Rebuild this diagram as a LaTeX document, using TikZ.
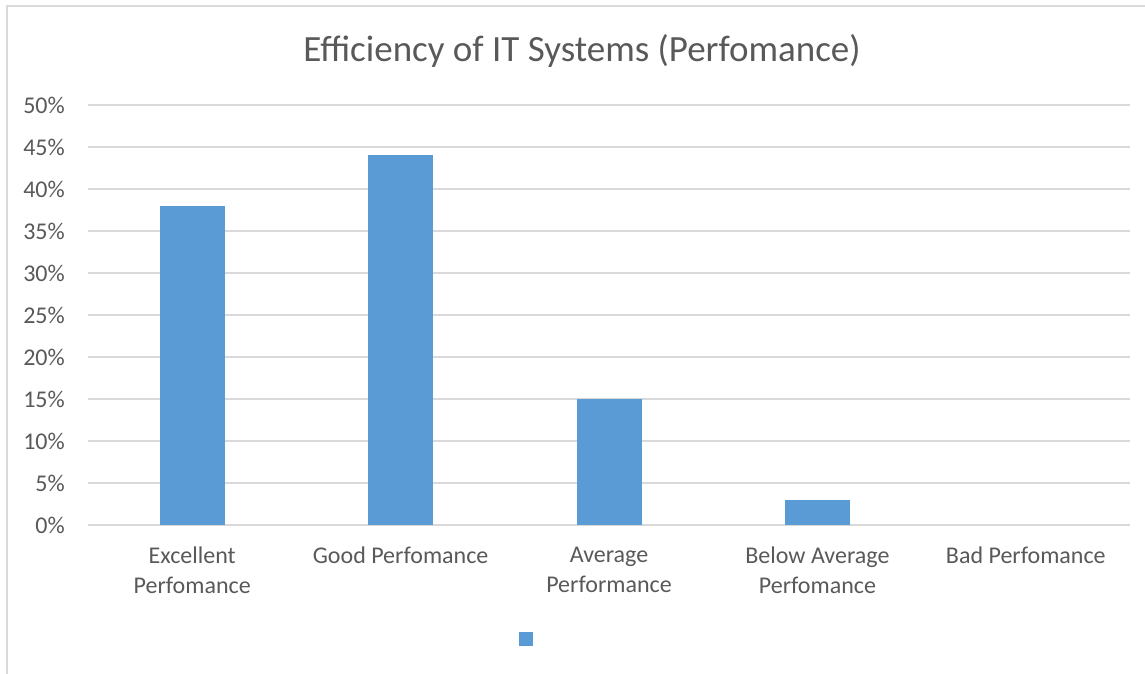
\documentclass[tikz,border=0pt]{standalone}
\usepackage{fontspec}
\setmainfont{Carlito}
\definecolor{barblue}{HTML}{5B9BD5}
\definecolor{gridgray}{HTML}{D9D9D9}
\definecolor{textgray}{HTML}{595959}
\begin{document}
\begin{tikzpicture}[x=1pt,y=-1pt,
    tick label/.style={text=textgray,font=\fontsize{24}{29}\selectfont,anchor=east,inner sep=0pt},
    cat label/.style={text=textgray,font=\fontsize{24}{30}\selectfont,align=center,anchor=north,inner sep=0pt},
    grid line/.style={draw=gridgray,line width=1.3pt},
    bar/.style={fill=barblue}]
    \useasboundingbox (0,0) rectangle (1145,674);
    % chart frame
    \draw [gridgray,line width=1.5pt] (7,674) -- (7,6) -- (1145,6);
    \node [text=textgray,font=\fontsize{37}{44}\selectfont] (title) at (582,51) {Efficiency of IT Systems (Perfomance)};
    % value axis
    \foreach \p in {0,5,...,50} {
        \draw [grid line] (88,{525-8.4*\p}) -- (1130,{525-8.4*\p});
        \node [tick label] (tick\p) at (65,{525-8.4*\p}) {\p\%};
    }
    % bars and categories
    \foreach \name/\val [count=\i] in {{Excellent\\Perfomance}/38,{Good Perfomance}/44,{Average\\Performance}/15,{Below Average\\Perfomance}/3,{Bad Perfomance}/0} {
        \pgfmathsetmacro{\cx}{88+208.4*(\i-0.5)}
        \ifdim \val pt>0pt
            \fill [bar] ({\cx-32.5},525) rectangle ({\cx+32.5},{525-8.4*\val});
        \fi
        \node [cat label] (cat\i) at (\cx,547) {\name};
    }
    % legend
    \fill [bar] (519,632) rectangle (533,646);
\end{tikzpicture}
\end{document}
